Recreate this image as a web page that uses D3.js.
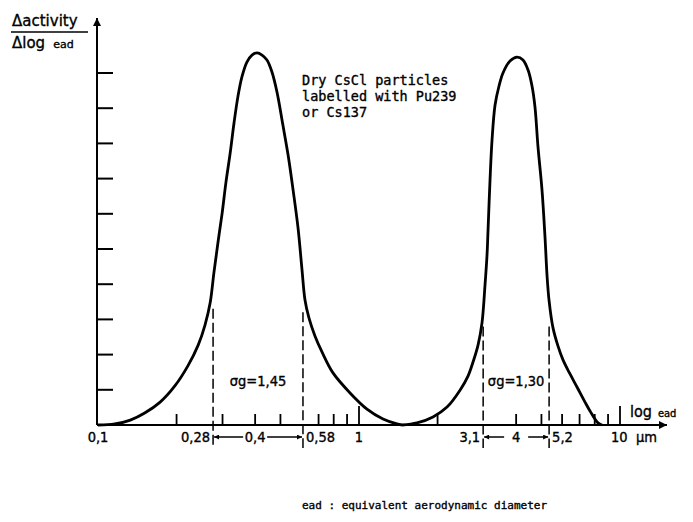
<!DOCTYPE html>
<html>
<head>
<meta charset="utf-8">
<script src="https://cdn.jsdelivr.net/npm/d3@7"></script>
<style>
  body { margin: 0; background: #fff; }
  svg text { fill: #000; stroke: #000; stroke-width: 0.35px; }
</style>
</head>
<body>
<svg id="chart" width="693" height="522"></svg>
<script>
// equivalent aerodynamic diameter (um) and relative activity
var diam1 = [0.1, 0.116, 0.133, 0.151, 0.173, 0.197, 0.221, 0.242, 0.257, 0.269, 0.278, 0.288, 0.299, 0.309,
  0.321, 0.332, 0.344, 0.356, 0.372, 0.389, 0.407, 0.425, 0.444, 0.464, 0.485, 0.511, 0.535, 0.559, 0.584,
  0.605, 0.621, 0.643, 0.678, 0.722, 0.795, 0.924, 1.073, 1.236, 1.398, 1.461];
var act1 = [0, 0.03, 0.14, 0.34, 0.65, 1.11, 1.68, 2.27, 2.84, 3.47, 4.32, 5.17, 6.02, 6.88,
  7.73, 8.58, 9.35, 9.89, 10.31, 10.51, 10.57, 10.51, 10.37, 10.03, 9.46, 8.52, 7.67, 6.68, 5.6,
  4.4, 3.55, 3.04, 2.53, 2.07, 1.48, 0.91, 0.45, 0.17, 0.03, 0];
var diam2 = [1.461, 1.668, 1.921, 2.174, 2.438, 2.616, 2.735, 2.858, 2.96, 3.04, 3.094, 3.122, 3.177, 3.234,
  3.321, 3.439, 3.562, 3.789, 4.03, 4.249, 4.441, 4.601, 4.724, 4.851, 5.025, 5.16, 5.252, 5.346, 5.538,
  5.788, 6.048, 6.433, 6.843, 7.344, 7.675, 8.235, 8.531];
var act2 = [0, 0.06, 0.23, 0.51, 0.99, 1.39, 1.79, 2.27, 2.9, 3.98, 4.83, 5.54, 6.96, 8.1,
  9.09, 9.63, 10.0, 10.34, 10.45, 10.37, 10.09, 9.63, 9.03, 7.9, 6.68, 5.34, 4.26, 3.55, 2.76,
  2.24, 1.85, 1.45, 1.08, 0.65, 0.4, 0.06, 0];

var sigmaBounds = [0.276, 0.61, 2.99, 5.35];
var sigmaTop = [3.3, 3.2, 2.8, 2.8];
var medians = [0.4, 4];
var sigmaText = ['σg=1,45', 'σg=1,30'];

var minorTicks = [0.2, 0.3, 0.4, 0.5, 0.7, 0.8, 0.9, 2, 4, 5, 6, 7, 8, 9];
var decadeTicks = [1, 10];
var yTicks = [1, 2, 3, 4, 5, 6, 7, 8, 9, 10];
var labelValues = [0.1, 0.276, 0.4, 0.61, 1, 2.99, 4, 5.35, 10];
var labelTexts = ['0,1', '0,28', '0,4', '0,58', '1', '3,1', '4', '5,2', '10  μm'];
var labelAnchors = ['middle', 'end', 'middle', 'start', 'middle', 'end', 'middle', 'start', 'start'];

var noteLines = ['Dry CsCl particles', 'labelled with Pu239', 'or Cs137'];

var svg = d3.select('#chart');
var x = d3.scaleLog().domain([0.1, 10]).range([98, 620]);
var y = d3.scaleLinear().domain([0, 10]).range([425, 73]);
var axisX = 97;
var base = y(0);
var tickFont = '"DejaVu Sans Condensed", "DejaVu Sans", sans-serif';
var mono = '"DejaVu Sans Mono", monospace';

var defs = svg.append('defs');
defs.append('marker').attr('id', 'head').attr('viewBox', '0 0 10 10')
  .attr('refX', 10).attr('refY', 5).attr('markerWidth', 14).attr('markerHeight', 8)
  .attr('markerUnits', 'userSpaceOnUse').attr('orient', 'auto')
  .append('path').attr('d', 'M0,0 L10,5 L0,10 Z').attr('fill', '#000');
defs.append('marker').attr('id', 'small').attr('viewBox', '0 0 10 10')
  .attr('refX', 10).attr('refY', 5).attr('markerWidth', 8).attr('markerHeight', 5)
  .attr('markerUnits', 'userSpaceOnUse').attr('orient', 'auto')
  .append('path').attr('d', 'M0,0 L10,5 L0,10 Z').attr('fill', '#000');

// axes
svg.append('line').attr('x1', axisX).attr('x2', axisX).attr('y1', base).attr('y2', 18)
  .attr('stroke', '#000').attr('stroke-width', 2).attr('marker-end', 'url(#head)');
svg.append('line').attr('x1', axisX).attr('x2', 667).attr('y1', base).attr('y2', base)
  .attr('stroke', '#000').attr('stroke-width', 2).attr('marker-end', 'url(#head)');

svg.append('g').selectAll('line').data(yTicks).enter().append('line')
  .attr('x1', axisX).attr('x2', axisX + 16)
  .attr('y1', function(d) { return y(d); }).attr('y2', function(d) { return y(d); })
  .attr('stroke', '#000').attr('stroke-width', 2);

svg.append('g').selectAll('line').data(minorTicks).enter().append('line')
  .attr('x1', function(d) { return x(d); }).attr('x2', function(d) { return x(d); })
  .attr('y1', base).attr('y2', base - 11)
  .attr('stroke', '#000').attr('stroke-width', 1.8);
svg.append('g').selectAll('line').data(decadeTicks).enter().append('line')
  .attr('x1', function(d) { return x(d); }).attr('x2', function(d) { return x(d); })
  .attr('y1', base).attr('y2', base - 19)
  .attr('stroke', '#000').attr('stroke-width', 1.8);

// dashed sigma lines
svg.append('g').selectAll('line').data(sigmaBounds).enter().append('line')
  .attr('x1', function(d) { return x(d); }).attr('x2', function(d) { return x(d); })
  .attr('y1', function(d, i) { return y(sigmaTop[i]); }).attr('y2', base + 23)
  .attr('stroke', '#000').attr('stroke-width', 1.5).attr('stroke-dasharray', '10,4');

// curves
var line = d3.line()
  .x(function(d) { return x(d[0]); })
  .y(function(d) { return y(d[1]); })
  .curve(d3.curveCatmullRom.alpha(0.5));
[[diam1, act1], [diam2, act2]].forEach(function(s) {
  svg.append('path').datum(d3.zip(s[0], s[1]))
    .attr('d', line).attr('fill', 'none')
    .attr('stroke', '#000').attr('stroke-width', 2.8)
    .attr('stroke-linejoin', 'round');
});

// tick labels
svg.append('g').selectAll('text').data(labelValues).enter().append('text')
  .attr('x', function(d, i) {
    var a = labelAnchors[i];
    if (a === 'end') return x(d) - 3;
    if (a === 'start') return x(d) + (d === 10 ? -9 : 3);
    return x(d);
  })
  .attr('y', base + 17)
  .attr('text-anchor', function(d, i) { return labelAnchors[i]; })
  .attr('font-family', tickFont).attr('font-size', 14.5)
  .style('white-space', 'pre')
  .text(function(d, i) { return labelTexts[i]; });

// arrows between sigma bounds
medians.forEach(function(m, i) {
  var lo = x(sigmaBounds[i * 2]), hi = x(sigmaBounds[i * 2 + 1]), c = x(m);
  var yy = base + 12;
  svg.append('line').attr('x1', c - 12).attr('x2', lo + 1).attr('y1', yy).attr('y2', yy)
    .attr('stroke', '#000').attr('stroke-width', 1.5).attr('marker-end', 'url(#small)');
  svg.append('line').attr('x1', c + 12).attr('x2', hi - 1).attr('y1', yy).attr('y2', yy)
    .attr('stroke', '#000').attr('stroke-width', 1.5).attr('marker-end', 'url(#small)');
  svg.append('text').attr('x', (lo + hi) / 2).attr('y', y(1.1))
    .attr('text-anchor', 'middle').attr('font-family', tickFont).attr('font-size', 14.5)
    .text(sigmaText[i]);
});

// log ead label
var lg = svg.append('text').attr('x', 630).attr('y', 417).attr('font-family', tickFont);
lg.append('tspan').attr('font-size', 16).text('log');
lg.append('tspan').attr('font-size', 11).attr('dx', 6).text('ead');

// y label
var yl = svg.append('g');
yl.append('text').attr('x', 12).attr('y', 26).attr('font-family', '"DejaVu Sans", sans-serif')
  .attr('font-size', 15).text('Δactivity');
yl.append('line').attr('x1', 11).attr('x2', 88).attr('y1', 32).attr('y2', 32)
  .attr('stroke', '#000').attr('stroke-width', 1.6);
var yl2 = yl.append('text').attr('x', 12).attr('y', 48).attr('font-family', '"DejaVu Sans", sans-serif');
yl2.append('tspan').attr('font-size', 15).text('Δlog');
yl2.append('tspan').attr('font-size', 11).attr('dx', 8).text('ead');

// annotation
svg.append('g').selectAll('text').data(noteLines).enter().append('text')
  .attr('x', 302).attr('y', function(d, i) { return 85 + i * 16; })
  .attr('font-family', mono).attr('font-size', 13.5)
  .text(function(d) { return d; });

svg.append('text').attr('x', 302).attr('y', 509)
  .attr('font-family', mono).attr('font-size', 11)
  .text('ead : equivalent aerodynamic diameter');
</script>
</body>
</html>
